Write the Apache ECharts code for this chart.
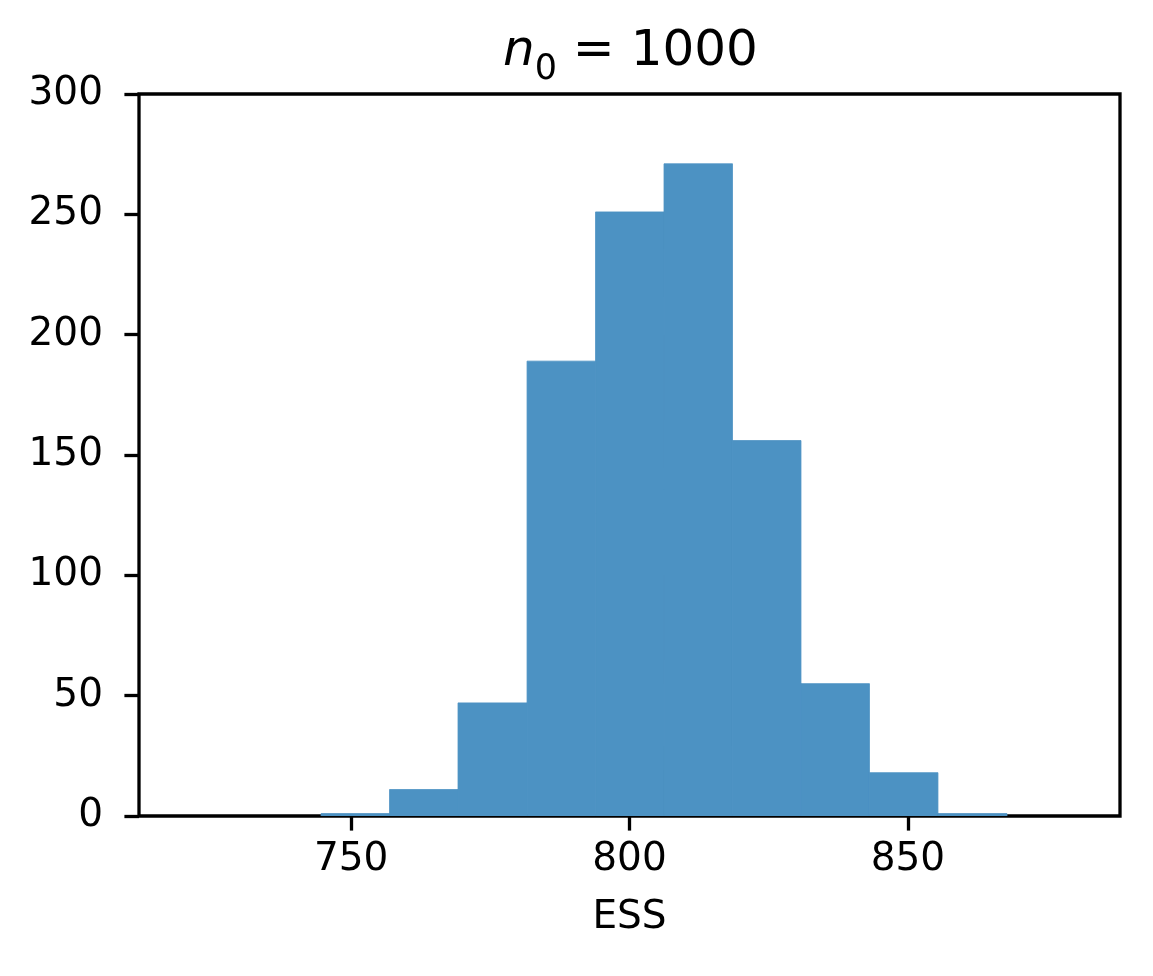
<!DOCTYPE html>
<html>
<head>
<meta charset="utf-8">
<script src="https://cdn.jsdelivr.net/npm/echarts@6/dist/echarts.min.js"></script>
<style>
html,body{margin:0;padding:0;background:#fff;}
#chart{width:1153px;height:976px;}
</style>
</head>
<body>
<div id="chart"></div>
<script>
// Histogram bin edges (ESS) and counts
const binLower = [744.6, 756.9, 769.2, 781.6, 793.9, 806.2, 818.5, 830.8, 843.1, 855.4];
const binUpper = [756.9, 769.2, 781.6, 793.9, 806.2, 818.5, 830.8, 843.1, 855.4, 867.8];
const counts   = [1, 11, 47, 189, 251, 271, 156, 55, 18, 1];
const xTicks   = [750, 800, 850];
const yTicks   = [0, 50, 100, 150, 200, 250, 300];

const data = binLower.map((lo, i) => [lo, binUpper[i], counts[i]]);

const FONT = 'DejaVu Sans';
const chart = echarts.init(document.getElementById('chart'), null, {renderer: 'canvas'});

chart.setOption({
  animation: false,
  backgroundColor: '#ffffff',
  title: {
    text: '{i|n}{s|0}{t| = 1000}',
    left: 498,
    top: 16,
    textStyle: {
      fontWeight: 'normal',
      rich: {
        i: {fontFamily: FONT, fontStyle: 'italic', fontWeight: 'normal', fontSize: 50, color: '#000', verticalAlign: 'bottom', lineHeight: 56},
        s: {fontFamily: FONT, fontWeight: 'normal', fontSize: 35, color: '#000', verticalAlign: 'bottom', lineHeight: 56, padding: [0, 0, -10, 0]},
        t: {fontFamily: FONT, fontWeight: 'normal', fontSize: 50, color: '#000', verticalAlign: 'bottom', lineHeight: 56}
      }
    }
  },
  grid: {
    left: 139, right: 33, top: 94, bottom: 160,
    show: true, borderColor: '#000', borderWidth: 3.3, backgroundColor: 'transparent'
  },
  xAxis: {
    type: 'value',
    min: 711.9,
    max: 888.1,
    name: 'ESS',
    nameLocation: 'middle',
    nameGap: 82,
    nameTextStyle: {fontFamily: FONT, fontSize: 39, color: '#000'},
    splitLine: {show: false},
    axisLine: {show: false},
    axisTick: {show: true, inside: false, length: 14.6, customValues: xTicks, lineStyle: {color: '#000', width: 3.3}},
    axisLabel: {fontFamily: FONT, fontSize: 39, color: '#000', margin: 24, customValues: xTicks}
  },
  yAxis: {
    type: 'value',
    min: 0,
    max: 300,
    interval: 50,
    splitLine: {show: false},
    axisLine: {show: false},
    axisTick: {show: true, inside: false, length: 14.6, customValues: yTicks, lineStyle: {color: '#000', width: 3.3}},
    axisLabel: {fontFamily: FONT, fontSize: 39, color: '#000', margin: 36, customValues: yTicks}
  },
  series: [{
    type: 'custom',
    data: data,
    encode: {x: [0, 1], y: 2},
    clip: true,
    renderItem: function (params, api) {
      const p0 = api.coord([api.value(0), 0]);
      const p1 = api.coord([api.value(1), api.value(2)]);
      return {
        type: 'rect',
        shape: {x: p0[0], y: p1[1], width: p1[0] - p0[0], height: p0[1] - p1[1]},
        style: {fill: '#4c92c3', stroke: '#4c92c3', lineWidth: 0.8}
      };
    }
  }]
});
</script>
</body>
</html>
